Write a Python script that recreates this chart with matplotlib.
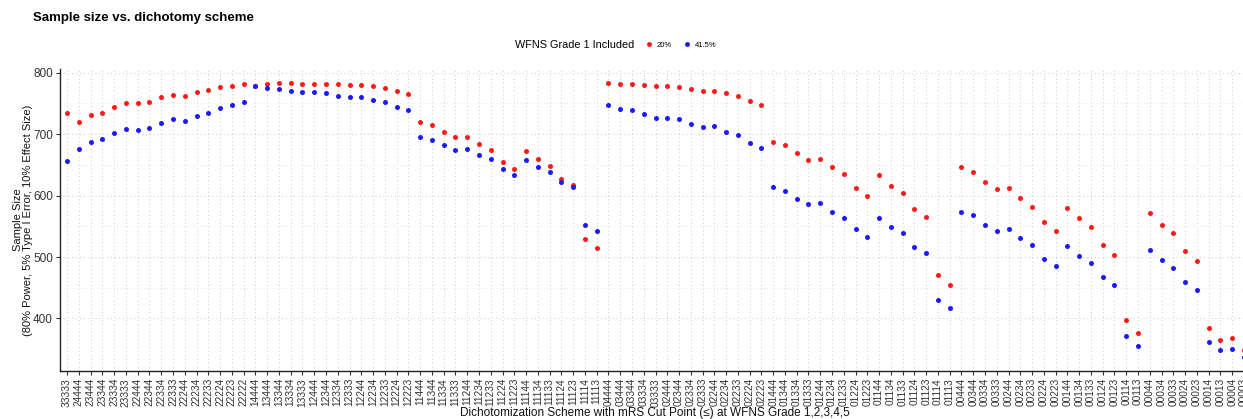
import matplotlib
matplotlib.use("Agg")
import matplotlib.pyplot as plt
from matplotlib.lines import Line2D

plt.rcParams['font.family'] = ['Liberation Sans', 'DejaVu Sans']

schemes = [
    "33333", "24444", "23444", "23344", "23334", "23333", "22444", "22344", "22334", "22333",
    "22244", "22234", "22233", "22224", "22223", "22222",
    "14444", "13444", "13344", "13334", "13333", "12444", "12344", "12334", "12333", "12244",
    "12234", "12233", "12224", "12223", "11444", "11344", "11334", "11333", "11244", "11234",
    "11233", "11224", "11223", "11144", "11134", "11133", "11124", "11123", "11114", "11113",
    "04444", "03444", "03344", "03334", "03333", "02444", "02344", "02334", "02333", "02244",
    "02234", "02233", "02224", "02223", "01444", "01344", "01334", "01333", "01244", "01234",
    "01233", "01224", "01223", "01144", "01134", "01133", "01124", "01123", "01114", "01113",
    "00444", "00344", "00334", "00333", "00244", "00234", "00233", "00224", "00223", "00144",
    "00134", "00133", "00124", "00123", "00114", "00113", "00044", "00034", "00033", "00024",
    "00023", "00014", "00013", "00004", "00003",
]

n_20 = [
    735, 720, 732, 735, 744, 751, 750, 753, 760, 764, 763, 769, 772, 777, 779, 781,
    779, 782, 783, 784, 782, 782, 782, 781, 780, 780, 778, 775, 770, 766,
    720, 715, 703, 695, 696, 684, 675, 655, 644, 673, 659, 648, 627, 617, 530, 515,
    783, 782, 782, 780, 778, 779, 777, 773, 771, 771, 767, 763, 754, 748,
    688, 682, 669, 658, 660, 646, 635, 612, 599, 633, 616, 605, 578, 566, 470, 454,
    646, 639, 622, 610, 613, 596, 582, 557, 543, 580, 563, 549, 519, 504, 397, 377,
    572, 553, 539, 510, 494, 384, 365, 369, 349,
]

n_415 = [
    656, 676, 688, 692, 702, 708, 707, 710, 719, 724, 722, 729, 735, 743, 748, 753,
    778, 775, 774, 771, 769, 769, 767, 763, 760, 761, 756, 753, 745, 740,
    695, 691, 682, 675, 676, 666, 659, 643, 634, 658, 647, 639, 622, 614, 553, 543,
    748, 741, 739, 733, 727, 727, 724, 717, 711, 713, 704, 698, 685, 678,
    614, 608, 595, 586, 588, 573, 564, 545, 533, 563, 549, 539, 517, 506, 430, 417,
    573, 569, 553, 543, 545, 531, 519, 497, 485, 518, 502, 490, 467, 455, 371, 356,
    511, 495, 483, 460, 447, 362, 348, 351, 337,
]

series_labels = ["20%", "41.5%"]
series_colors = ["#FF1A1A", "#1A1AFF"]
y_ticks = [400, 500, 600, 700, 800]

W, H = 1243, 419
fig = plt.figure(figsize=(W / 100, H / 100), dpi=100)
ax = fig.add_axes([60 / W, 48 / H, (1251 - 60) / W, (371.5 - 69.6) / H])

x = list(range(len(schemes)))
for vals, col in zip([n_20, n_415], series_colors):
    ax.scatter(x, vals, s=13, color=col, linewidths=0, zorder=3)

ax.set_xlim(-0.6, len(schemes) - 0.4)
ax.set_ylim(314.5, 806)
ax.set_xticks(x)
ax.set_xticklabels(schemes, rotation=90, fontsize=7.3, color="#333333")
ax.set_yticks(y_ticks)
ax.set_yticks([450, 550, 650, 750], minor=True)
ax.tick_params(axis='y', which='major', labelsize=8.5, labelcolor="#333333",
               length=3, color="#333333", pad=2)
ax.tick_params(axis='y', which='minor', length=0)
ax.tick_params(axis='x', length=3, color="#333333", pad=2)

ax.grid(True, which='major', axis='both', linestyle=(0, (1, 3)), color="#c8c8c8", linewidth=0.7)
ax.grid(True, which='minor', axis='y', linestyle=(0, (1, 3)), color="#dddddd", linewidth=0.6)
ax.set_axisbelow(True)

for s in ['top', 'right']:
    ax.spines[s].set_visible(False)
for s in ['left', 'bottom']:
    ax.spines[s].set_color("#222222")
    ax.spines[s].set_linewidth(1.0)

ax.set_ylabel("Sample Size\n(80% Power, 5% Type I Error, 10% Effect Size)", fontsize=8,
              color="#111111", labelpad=0, linespacing=1.0)

fig.text(655 / W, 1 - 413 / H,
         "Dichotomization Scheme with mRS Cut Point (\u2264) at WFNS Grade 1,2,3,4,5",
         fontsize=8.5, color="#111111", ha='center', va='center')

fig.text(33 / W, 1 - 18 / H, "Sample size vs. dichotomy scheme", fontsize=9.5,
         fontweight='bold', va='center', ha='left')

fig.text(634 / W, 1 - 45 / H, "WFNS Grade 1 Included", fontsize=7.8, va='center', ha='right')
handles = [Line2D([], [], marker='o', linestyle='None', markersize=3.5,
                  markerfacecolor=c, markeredgewidth=0, color=c) for c in series_colors]
fig.legend(handles, series_labels, loc='center left', bbox_to_anchor=(646 / W, 1 - 45 / H),
           ncol=2, frameon=False, fontsize=5.5, handlelength=0.8, handletextpad=0.6,
           columnspacing=1.6, borderpad=0, borderaxespad=0)

fig.savefig("out.png", dpi=100)
